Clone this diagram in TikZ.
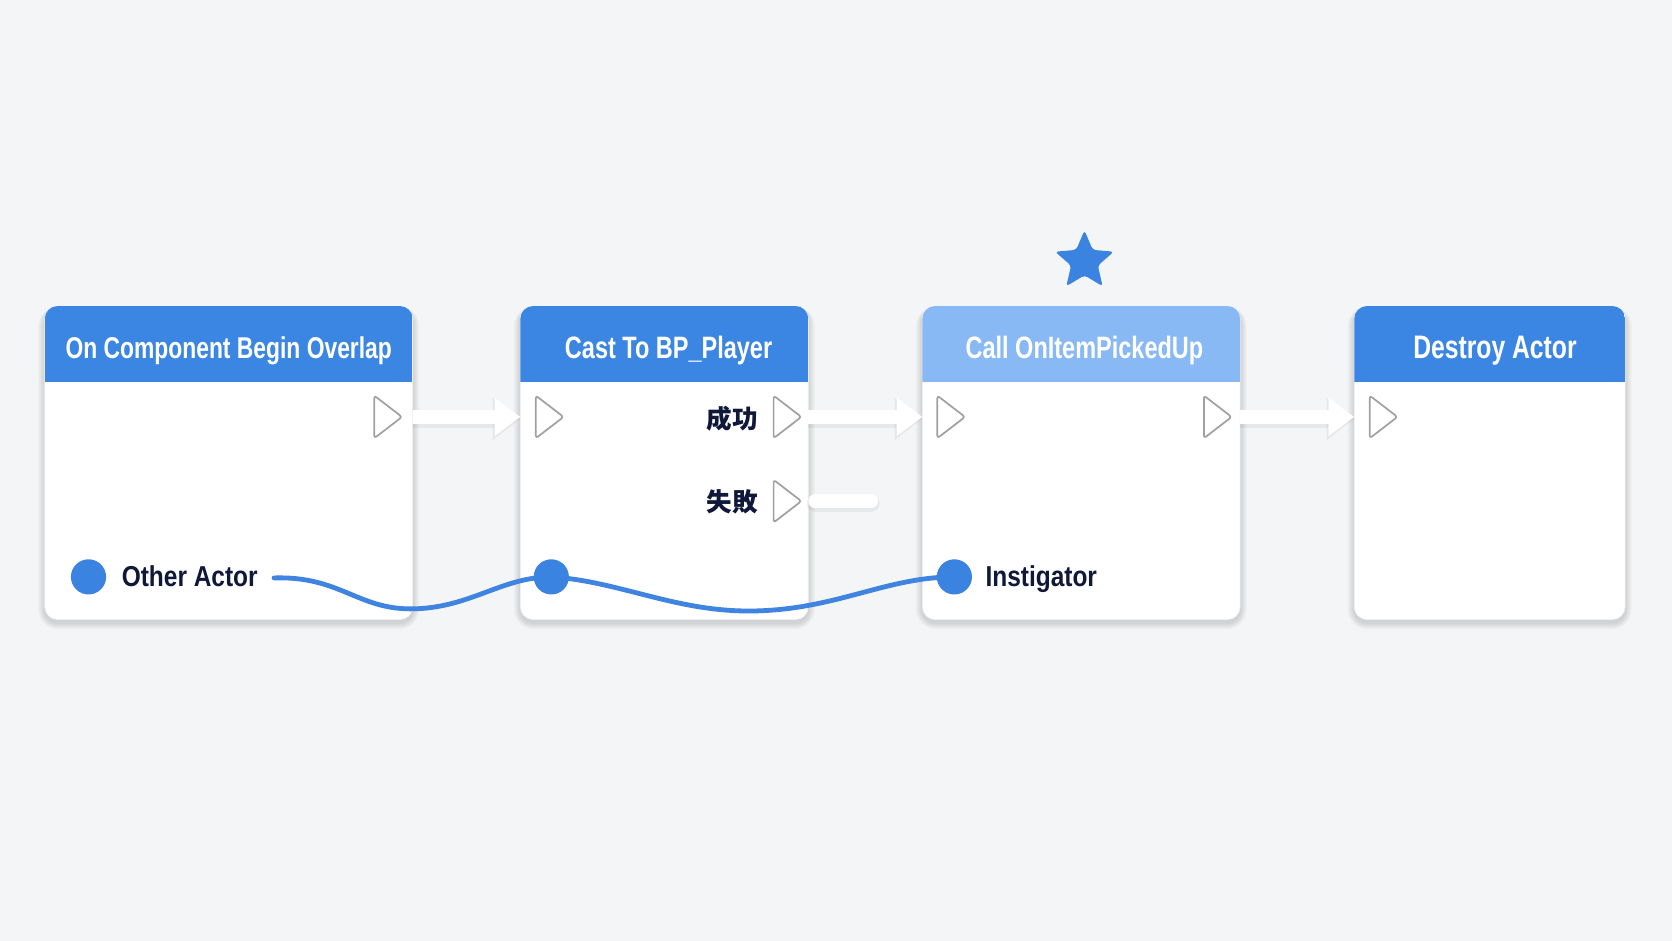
\documentclass[tikz,border=0pt]{standalone}
\usepackage{fontspec}
\setmainfont{Liberation Sans}
\newfontfamily\hdrfont[FakeStretch=0.76]{Liberation Sans}
\newfontfamily\lblfont[FakeStretch=0.85]{Liberation Sans}
\newfontfamily\jpfont{Noto Sans CJK JP}
\usetikzlibrary{arrows.meta,shapes.geometric,calc,backgrounds}
\definecolor{bgc}{HTML}{F4F5F7}
\definecolor{hdrblue}{RGB}{59,134,227}
\definecolor{hdrlight}{RGB}{136,185,245}
\definecolor{pinblue}{RGB}{59,131,225}
\definecolor{wireblue}{RGB}{62,132,224}
\definecolor{navy}{HTML}{0F1838}
\definecolor{pingray}{RGB}{160,160,160}
\tikzset{
  nodebox/.style={rectangle, rounded corners=12pt, fill=white, draw=black!6, line width=0.6pt,
    inner sep=0pt, outer sep=0pt, minimum height=294pt},
  hdrtext/.style={anchor=base, text=white, inner sep=0pt, font=\hdrfont\bfseries\fontsize{29}{34}\selectfont},
  lbltext/.style={anchor=base west, text=navy, inner sep=0pt, font=\lblfont\bfseries\fontsize{27}{32}\selectfont},
  jptext/.style={anchor=east, text=navy, inner sep=0pt, font=\jpfont\bfseries\fontsize{24}{28}\selectfont},
  datapin/.style={circle, fill=pinblue, minimum size=33pt, inner sep=0pt},
  pinshape/.style={draw=pingray, fill=white, line width=1.6pt, rounded corners=2.5pt, line join=round},
  execpin/.pic={\draw[pinshape] (-13,-20) -- (13,0) -- (-13,20) -- cycle;},
  execarrow/.style={draw=white, line width=13pt, -{Triangle[width=34pt,length=24pt]}},
  arrshadow/.style={draw=black, draw opacity=0.05, line width=16pt, -{Triangle[width=38pt,length=26pt]}, transform canvas={yshift=-2pt}},
  stubline/.style={draw=white, line width=13pt, line cap=round},
  stubshadow/.style={draw=black, draw opacity=0.05, line width=16pt, line cap=round, transform canvas={yshift=-2pt}},
  wire/.style={draw=wireblue, line width=4.5pt, line cap=round},
}
\begin{document}
\begin{tikzpicture}[x=1pt,y=-1pt]
\useasboundingbox (0,0) rectangle (1568,882);
\begin{scope}[on background layer]
  \fill[bgc] (0,0) rectangle (1568,882);
\end{scope}

% node bodies
\node[nodebox, minimum width=345pt] (n1) at (214.5,434) {};
\node[nodebox, minimum width=270pt] (n2) at (623,434) {};
\node[nodebox, minimum width=298pt] (n3) at (1014,434) {};
\node[nodebox, minimum width=254pt] (n4) at (1397,434) {};

% soft shadows under the bodies
\begin{scope}[on background layer]
  \foreach \n in {n1,n2,n3,n4} {
    \foreach \k in {1,...,7} {
      \fill[black, opacity=0.018, rounded corners={12pt+\k pt}]
        ($(\n.north west)+(-\k*0.9,-\k*0.4+3)$) rectangle ($(\n.south east)+(\k*0.9,\k*0.9+3)$);
    }
  }
\end{scope}

% headers
\foreach \n/\c in {n1/hdrblue, n2/hdrblue, n3/hdrlight, n4/hdrblue} {
  \begin{scope}
    \clip[rounded corners=12pt] (\n.north west) rectangle (\n.south east);
    \fill[\c] (\n.north west) rectangle ($(\n.north east)+(0,71)$);
  \end{scope}
}

% titles
\node[hdrtext, font=\hdrfont\bfseries\fontsize{28.2}{34}\selectfont] (t1) at (214.5,336) {On Component Begin Overlap};
\node[hdrtext] (t2) at (627,336) {Cast To BP\_Player};
\node[hdrtext] (t3) at (1017,336) {Call OnItemPickedUp};
\node[hdrtext, font=\hdrfont\bfseries\fontsize{30.5}{34}\selectfont] (t4) at (1402,336) {Destroy Actor};

% star
\node[star, star points=5, star point ratio=2.2, minimum size=58pt, inner sep=0pt,
      fill=pinblue, rounded corners=3pt] (star) at (1017,245) {};

% exec pin positions
\coordinate (o1) at (364,391);
\coordinate (i2) at (515.5,391);
\coordinate (o2s) at (738.5,391);
\coordinate (o2f) at (738.5,470);
\coordinate (i3) at (892,391);
\coordinate (o3) at (1142,391);
\coordinate (i4) at (1297.5,391);
\coordinate (failend) at (817,470);

% exec connectors
\draw[arrshadow] (n1.east |- o1) -- (n2.west |- i2);
\draw[execarrow] (n1.east |- o1) -- (n2.west |- i2);
\draw[arrshadow] (n2.east |- o2s) -- (n3.west |- i3);
\draw[execarrow] (n2.east |- o2s) -- (n3.west |- i3);
\draw[arrshadow] (n3.east |- o3) -- (n4.west |- i4);
\draw[execarrow] (n3.east |- o3) -- (n4.west |- i4);
\draw[stubshadow] ($(n2.east |- o2f)+(6.5,0)$) -- (failend);
\draw[stubline] ($(n2.east |- o2f)+(6.5,0)$) -- (failend);

% exec pins
\foreach \p in {o1,i2,o2s,o2f,i3,o3,i4} { \pic at (\p) {execpin}; }

% labels
\node[jptext] (ls) at (711,393) {成功};
\node[jptext] (lf) at (711,471) {失敗};
\node[lbltext] (la) at (114,550) {Other Actor};
\node[lbltext] (li) at (924,550) {Instigator};

% data pin centres and wires
\coordinate (c1) at (83,541);
\coordinate (c2) at (517,541);
\coordinate (c3) at (895,541);
\coordinate (w1s) at (257,542);
\draw[wire] (w1s) .. controls (318,540) and (335,571) .. (385,571)
   .. controls (440,571) and (470,541) .. (c2);
\draw[wire] (c2) .. controls (580,545) and (632,573) .. (702,573)
   .. controls (782,573) and (830,541) .. (c3);

% data pins
\node[datapin] (d1) at (c1) {};
\node[datapin] (d2) at (c2) {};
\node[datapin] (d3) at (c3) {};
\end{tikzpicture}
\end{document}
